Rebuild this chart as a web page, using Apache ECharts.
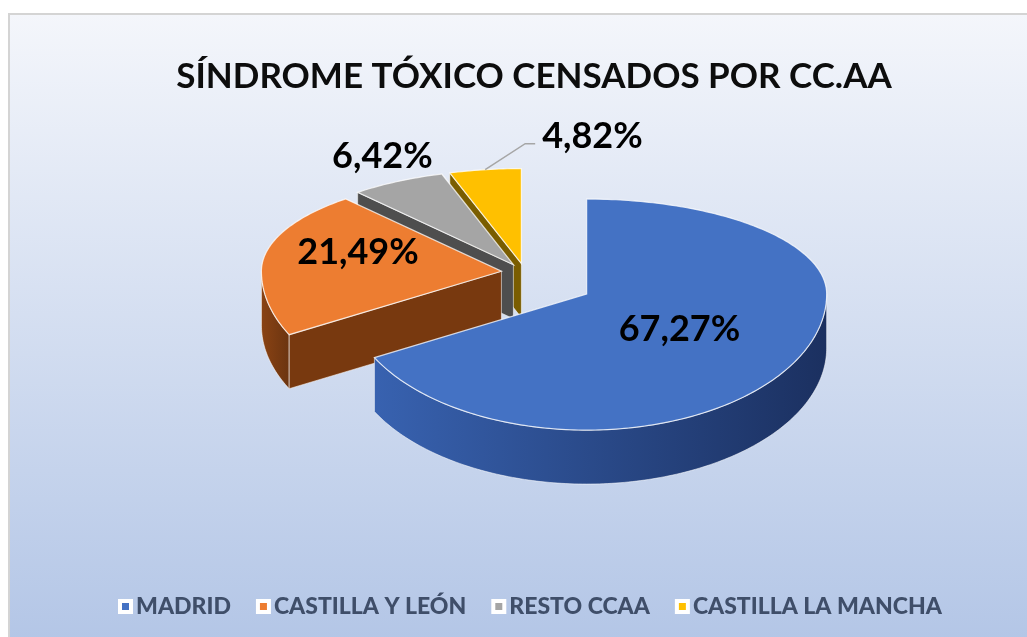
<!DOCTYPE html>
<html>
<head>
<meta charset="utf-8">
<script src="https://cdn.jsdelivr.net/npm/echarts@6/dist/echarts.min.js"></script>
<style>
html,body{margin:0;padding:0;background:#ffffff;}
#chart{width:1027px;height:637px;}
</style>
</head>
<body>
<div id="chart"></div>
<script>
// ---- data ----
const TITLE = 'SÍNDROME TÓXICO CENSADOS POR CC.AA';
const CATEGORIES = ['MADRID', 'CASTILLA Y LEÓN', 'RESTO CCAA', 'CASTILLA LA MANCHA'];
const VALUES = [67.27, 21.49, 6.42, 4.82];

// ---- style ----
const TOP_COLORS = ['#4472C4', '#ED7D31', '#A5A5A5', '#FFC000'];
const WALL_COLORS = [['#3862b0', '#1b3060'], ['#8a4314', '#6b3410'], ['#5c5c5c', '#474747'], ['#8a6800', '#6e5300']];
const RADIAL_COLORS = ['#2a4d8f', '#78390f', '#4e4e4e', '#7a5d00'];
const EXPLODE = [72, 24, 24, 24];
const LABEL_MODE = ['inside', 'inside', 'outside', 'leader'];
const LABEL_NUDGE = [[-10, 0], [-2, -8], [14, -4], [0, 0]];
const G = { cx: 525, cy: 273, rx: 240, ryB: 95, ryF: 136, depth: 54 };
const FONT = 'Lato, "Open Sans", sans-serif';

function fmt(v) { return v.toFixed(2).replace('.', ',') + '%'; }

function pt(vx, vy, deg, r, dz) {
  const t = deg * Math.PI / 180;
  const s = Math.sin(t), c = Math.cos(t);
  const ry = c > 0 ? G.ryB : G.ryF;
  return [vx + r * G.rx * s, vy - r * ry * c + dz];
}
function arc(vx, vy, a, b, dz) {
  const pts = [];
  for (let d = a; d < b; d += 1) pts.push(pt(vx, vy, d, 1, dz));
  pts.push(pt(vx, vy, b, 1, dz));
  return pts;
}

function makeRender(i) {
  return function (params, api) {
    const total = VALUES.reduce((p, q) => p + q, 0);
    let start = 0;
    for (let k = 0; k < i; k++) start += VALUES[k];
    const v = api.value(0);
    const a0 = start / total * 360;
    const a1 = (start + v) / total * 360;
    const mid = (a0 + a1) / 2;
    const off = pt(G.cx, G.cy, mid, EXPLODE[i] / G.rx, 0);
    const vx = off[0], vy = off[1];
    const D = G.depth;
    const children = [];
    const edge = { stroke: 'rgba(255,255,255,0.55)', lineWidth: 1 };

    // curved outer wall (front part only)
    const s = Math.max(a0, 90), e = Math.min(a1, 270);
    if (e > s) {
      const topArc = arc(vx, vy, s, e, 0);
      const botArc = arc(vx, vy, s, e, D).reverse();
      children.push({
        type: 'polygon',
        shape: { points: topArc.concat(botArc) },
        style: Object.assign({
          fill: new echarts.graphic.LinearGradient(0, 0, 1, 0, [
            { offset: 0, color: WALL_COLORS[i][0] },
            { offset: 1, color: WALL_COLORS[i][1] }
          ])
        }, edge)
      });
    }
    // radial walls
    function radial(a) {
      const r0 = pt(vx, vy, a, 1, 0), r1 = pt(vx, vy, a, 1, D);
      children.push({
        type: 'polygon',
        shape: { points: [[vx, vy], r0, r1, [vx, vy + D]] },
        style: Object.assign({ fill: RADIAL_COLORS[i] }, edge)
      });
    }
    if (Math.sin(a0 * Math.PI / 180) < -1e-6) radial(a0);
    if (Math.sin(a1 * Math.PI / 180) > 1e-6) radial(a1);

    // top face
    children.push({
      type: 'polygon',
      shape: { points: [[vx, vy]].concat(arc(vx, vy, a0, a1, 0)) },
      style: { fill: TOP_COLORS[i], stroke: 'rgba(255,255,255,0.75)', lineWidth: 1.2 }
    });

    // label
    const textStyle = { text: fmt(v), fill: '#000000', font: 'bold 36px ' + FONT };
    const mode = LABEL_MODE[i];
    if (mode === 'leader') {
      const p = pt(vx, vy, mid, 1, 0);
      const elbow = [p[0] + 40, p[1] - 26];
      const end = [elbow[0] + 10, elbow[1]];
      children.push({
        type: 'polyline',
        shape: { points: [p, elbow, end] },
        style: { stroke: '#a6a6a6', lineWidth: 1.5, fill: null }
      });
      children.push({
        type: 'text', x: end[0] + 7, y: end[1] - 7,
        style: Object.assign({ align: 'left', verticalAlign: 'middle' }, textStyle)
      });
    } else {
      const f = mode === 'inside' ? (i === 0 ? 0.5 : 0.6) : 1.25;
      const lp = pt(vx, vy, mid, f, 0);
      children.push({
        type: 'text',
        x: lp[0] + LABEL_NUDGE[i][0], y: lp[1] + LABEL_NUDGE[i][1],
        style: Object.assign({ align: 'center', verticalAlign: 'middle' }, textStyle)
      });
    }
    return { type: 'group', children: children };
  };
}

const chart = echarts.init(document.getElementById('chart'), null, { renderer: 'canvas' });

const series = CATEGORIES.map((name, i) => ({
  type: 'custom',
  name: name,
  coordinateSystem: 'none',
  z: 10 - i,
  silent: true,
  itemStyle: { color: TOP_COLORS[i] },
  renderItem: makeRender(i),
  data: [VALUES[i]]
}));

chart.setOption({
  backgroundColor: '#ffffff',
  animation: false,
  graphic: [{
    type: 'rect',
    z: -10,
    shape: { x: 9, y: 14, width: 1030, height: 640 },
    style: {
      fill: new echarts.graphic.LinearGradient(0, 0, 0, 1, [
        { offset: 0, color: '#f4f6fb' },
        { offset: 1, color: '#b2c5e6' }
      ]),
      stroke: '#d4d4d4',
      lineWidth: 2
    }
  }],
  title: {
    text: TITLE,
    left: 529,
    textAlign: 'center',
    top: 54,
    textStyle: { fontFamily: FONT, fontWeight: 'bold', fontSize: 35, color: '#0d0d0d' }
  },
  legend: {
    data: CATEGORIES,
    top: 590,
    left: 113,
    icon: 'rect',
    itemWidth: 11,
    itemHeight: 11,
    itemGap: 25,
    itemStyle: { borderColor: '#ffffff', borderWidth: 4 },
    textStyle: { fontFamily: FONT, fontWeight: 900, fontSize: 23, color: '#3f4e69' }
  },
  series: series
});
</script>
</body>
</html>
